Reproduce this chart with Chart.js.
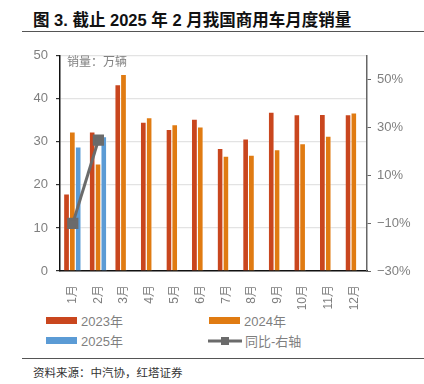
<!DOCTYPE html>
<html>
<head>
<meta charset="utf-8">
<script src="https://cdn.jsdelivr.net/npm/chart.js@4"></script>
<style>
  body { margin: 0; width: 424px; height: 384px; background: #fff; position: relative; overflow: hidden;
         font-family: "Liberation Sans", "Noto Sans CJK SC", sans-serif; }
  #title { position: absolute; left: 33px; top: 7px; font-size: 16.5px; font-weight: bold; color: #111; white-space: nowrap; }
  .rule { position: absolute; left: 22px; right: 0; height: 0; border-top: 1.5px solid #555; }
  #wrap { position: absolute; left: 0; top: 40px; width: 424px; height: 270px; }
  #unit { position: absolute; left: 67px; top: 52px; font-size: 12px; color: #808080; }
  .leg { position: absolute; font-size: 13px; color: #7f7f7f; display: flex; align-items: center; white-space: nowrap; }
  .box { width: 31px; height: 7px; margin-right: 4px; }
  #source { position: absolute; left: 33px; top: 364px; font-size: 11.5px; color: #333; }
</style>
</head>
<body>
<div id="title">图 3. 截止 2025 年 2 月我国商用车月度销量</div>
<div class="rule" style="top:31px"></div>
<div id="wrap"><canvas id="chart"></canvas></div>
<div id="unit">销量：万辆</div>
<div class="leg" style="left:46px; top:311px"><div class="box" style="background:#c9461e"></div>2023年</div>
<div class="leg" style="left:209px; top:311px"><div class="box" style="background:#e07b12"></div>2024年</div>
<div class="leg" style="left:46px; top:331px"><div class="box" style="background:#5b9bd5"></div>2025年</div>
<div class="leg" style="left:208px; top:331px">
  <svg width="34" height="12" style="margin-right:3px"><line x1="0" y1="6" x2="34" y2="6" stroke="#6b6b6b" stroke-width="3"/><rect x="13" y="2" width="8" height="8" fill="#6b6b6b"/></svg>同比-右轴</div>
<div class="rule" style="top:358px"></div>
<div id="source">资料来源：中汽协，红塔证券</div>
<script>
const months = ['1月', '2月', '3月', '4月', '5月', '6月', '7月', '8月', '9月', '10月', '11月', '12月'];
const sales2023 = [18.0, 32.4, 43.4, 34.7, 33.0, 35.4, 28.6, 30.8, 37.0, 36.4, 36.5, 36.4];
const sales2024 = [32.4, 25.0, 45.8, 35.7, 34.1, 33.6, 26.8, 27.0, 28.3, 29.7, 31.4, 36.8];
const sales2025 = [28.9, 31.3, null, null, null, null, null, null, null, null, null, null];
const yoy = [-10.1, 24.7, null, null, null, null, null, null, null, null, null, null];
const leftTicks = [0, 10, 20, 30, 40, 50];
const rightTicks = [-30, -10, 10, 30, 50];

const tickFont = { family: '"Liberation Sans", "Noto Sans CJK SC", sans-serif', size: 13 };
const tickColor = '#7f7f7f';

const ctx = document.getElementById('chart');

const bar = (label, data, color) => ({
  type: 'bar', label, data, backgroundColor: color,
  borderColor: 'rgba(255,255,255,0.45)', borderWidth: { top: 1, right: 1 },
  categoryPercentage: 0.68, barPercentage: 1, yAxisID: 'y', order: 1
});

new Chart(ctx, {
  data: {
    labels: months,
    datasets: [
      {
        type: 'line', label: '同比-右轴', data: yoy, yAxisID: 'y1', order: 0,
        borderColor: '#6b6b6b', backgroundColor: '#6b6b6b', borderWidth: 3,
        pointStyle: 'rect', pointRadius: 5.8, spanGaps: false
      },
      bar('2023年', sales2023, '#c9461e'),
      bar('2024年', sales2024, '#e07b12'),
      bar('2025年', sales2025, '#5b9bd5')
    ]
  },
  options: {
    responsive: true,
    maintainAspectRatio: false,
    animation: false,
    layout: { padding: { top: 13, left: 0, right: 0, bottom: 0 } },
    plugins: { legend: { display: false }, tooltip: { enabled: false } },
    scales: {
      x: {
        grid: { display: false },
        border: { color: '#111', width: 1.5 },
        ticks: { font: { ...tickFont, size: 12 }, color: tickColor, maxRotation: 90, minRotation: 90, padding: 6 },
        afterFit: s => { s.height = 39; }
      },
      y: {
        min: 0, max: 50,
        afterBuildTicks: s => { s.ticks = leftTicks.map(v => ({ value: v })); },
        grid: { color: '#e3e3e3', lineWidth: 1.2, tickColor: '#333', tickLength: 4 },
        border: { color: '#111', width: 1.5 },
        ticks: { font: tickFont, color: tickColor, padding: 8 },
        afterFit: s => { s.width = 60; }
      },
      y1: {
        position: 'right', min: -30, max: 60,
        afterBuildTicks: s => { s.ticks = rightTicks.map(v => ({ value: v })); },
        grid: { drawOnChartArea: false, tickColor: '#666', tickLength: 4 },
        border: { color: '#666', width: 1.5 },
        ticks: {
          font: tickFont, color: tickColor, padding: 6,
          callback: v => (v < 0 ? '\u2212' + Math.abs(v) : v) + '%'
        },
        afterFit: s => { s.width = 57; }
      }
    }
  }
});
</script>
</body>
</html>
